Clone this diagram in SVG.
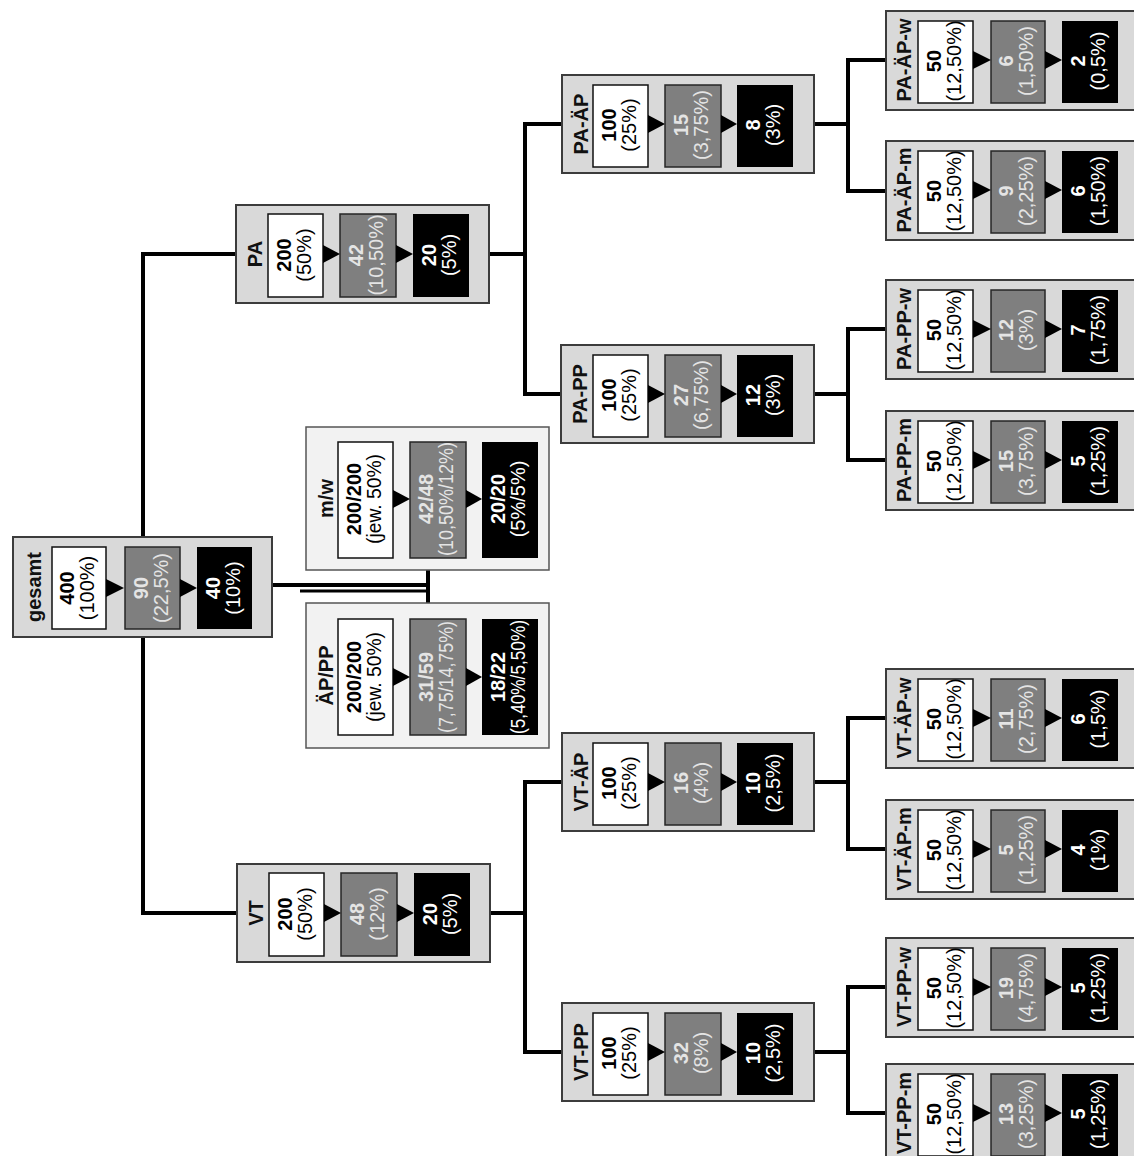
<svg xmlns="http://www.w3.org/2000/svg" width="1134" height="1156" viewBox="0 0 1134 1156">
<style>
.outer{fill:#d9d9d9;stroke:#3c3c3c;stroke-width:2}
.outer2{fill:#f2f2f2;stroke:#555;stroke-width:1.5}
.wb{fill:#fff;stroke:#111;stroke-width:1.5}
.gb{fill:#7f7f7f;stroke:#262626;stroke-width:1.5}
.bb{fill:#000}
.tri{fill:#000}
.lbl{font-family:"Liberation Sans",Arial,sans-serif;font-weight:bold;font-size:20px;fill:#111;text-anchor:middle}
.t{font-family:"Liberation Sans",Arial,sans-serif;font-size:20px;text-anchor:middle}
.tw{fill:#000}
.tg{fill:#e4e4e4}
.tb{fill:#fff}
.b{font-weight:bold}
.conn path{fill:none;stroke:#000;stroke-width:4}
.conn path.thin{stroke-width:3}
</style>
<g class="conn" id="connectors">
<path d="M236,254 H143 V913 H237"/>
<path d="M272,585 H428"/>
<path class="thin" d="M300,591 H428"/>
<path d="M428,570 V603"/>
<path d="M489,254 H525"/>
<path d="M562,124 H525 V394 H561"/>
<path d="M814,124 H848"/>
<path d="M886,60 H848 V191 H886"/>
<path d="M814,394 H848"/>
<path d="M886,329 H848 V460 H886"/>
<path d="M489,913 H525"/>
<path d="M562,782 H525 V1052 H562"/>
<path d="M814,782 H848"/>
<path d="M886,718 H848 V849 H886"/>
<path d="M814,1052 H848"/>
<path d="M886,987 H848 V1113 H886"/>
</g>

<g id="n-gesamt" transform="translate(13,537)">
<rect class="outer" width="259" height="100"/>
<text class="lbl" transform="translate(28,50) rotate(-90)">gesamt</text>
<rect class="wb" x="39" y="10" width="54" height="82"/>
<rect class="gb" x="112" y="10" width="55" height="82"/>
<rect class="bb" x="184" y="10" width="55" height="82"/>
<path class="tri" d="M93,42 L111,51 L93,60Z"/>
<path class="tri" d="M167,42 L184,51 L167,60Z"/>
<text class="t tw" transform="translate(66,51) rotate(-90)"><tspan class="b" x="0" y="-5">400</tspan><tspan x="0" y="15">(100%)</tspan></text>
<text class="t tg" transform="translate(139.5,51) rotate(-90)"><tspan class="b" x="0" y="-5">90</tspan><tspan x="0" y="15">(22,5%)</tspan></text>
<text class="t tb" transform="translate(211.5,51) rotate(-90)"><tspan class="b" x="0" y="-5">40</tspan><tspan x="0" y="15">(10%)</tspan></text>
</g>

<g id="n-mw" transform="translate(306,427)">
<rect class="outer2" width="243" height="143"/>
<text class="lbl" transform="translate(27,71.5) rotate(-90)">m/w</text>
<rect class="wb" x="32" y="15" width="55" height="116"/>
<rect class="gb" x="104" y="15" width="56" height="116"/>
<rect class="bb" x="176" y="15" width="56" height="116"/>
<path class="tri" d="M87,63 L104,72 L87,81Z"/>
<path class="tri" d="M160,63 L176,72 L160,81Z"/>
<text class="t tw" transform="translate(59.5,72) rotate(-90)"><tspan class="b" x="0" y="-5">200/200</tspan><tspan x="0" y="15" textLength="90" lengthAdjust="spacingAndGlyphs">(jew. 50%)</tspan></text>
<text class="t tg" transform="translate(132,72) rotate(-90)"><tspan class="b" x="0" y="-5">42/48</tspan><tspan x="0" y="15" textLength="114" lengthAdjust="spacingAndGlyphs">(10,50%/12%)</tspan></text>
<text class="t tb" transform="translate(204,72) rotate(-90)"><tspan class="b" x="0" y="-5">20/20</tspan><tspan x="0" y="15">(5%/5%)</tspan></text>
</g>

<g id="n-aepp" transform="translate(306,603)">
<rect class="outer2" width="243" height="145"/>
<text class="lbl" transform="translate(27,72.5) rotate(-90)">ÄP/PP</text>
<rect class="wb" x="32" y="16" width="55" height="116"/>
<rect class="gb" x="104" y="16" width="56" height="116"/>
<rect class="bb" x="176" y="16" width="56" height="116"/>
<path class="tri" d="M87,65 L104,74 L87,83Z"/>
<path class="tri" d="M160,65 L176,74 L160,83Z"/>
<text class="t tw" transform="translate(59.5,74) rotate(-90)"><tspan class="b" x="0" y="-5">200/200</tspan><tspan x="0" y="15" textLength="90" lengthAdjust="spacingAndGlyphs">(jew. 50%)</tspan></text>
<text class="t tg" transform="translate(132,74) rotate(-90)"><tspan class="b" x="0" y="-5">31/59</tspan><tspan x="0" y="15" textLength="112" lengthAdjust="spacingAndGlyphs">(7,75/14,75%)</tspan></text>
<text class="t tb" transform="translate(204,74) rotate(-90)"><tspan class="b" x="0" y="-5">18/22</tspan><tspan x="0" y="15" textLength="114" lengthAdjust="spacingAndGlyphs">(5,40%/5,50%)</tspan></text>
</g>

<g id="n-pa" transform="translate(236,205)">
<rect class="outer" width="253" height="98"/>
<text class="lbl" transform="translate(26,49) rotate(-90)">PA</text>
<rect class="wb" x="32" y="9" width="55" height="83"/>
<rect class="gb" x="104" y="9" width="56" height="83"/>
<rect class="bb" x="177" y="9" width="56" height="83"/>
<path class="tri" d="M87,40 L104,49 L87,58Z"/>
<path class="tri" d="M160,40 L177,49 L160,58Z"/>
<text class="t tw" transform="translate(59.5,50) rotate(-90)"><tspan class="b" x="0" y="-5">200</tspan><tspan x="0" y="15">(50%)</tspan></text>
<text class="t tg" transform="translate(132,50) rotate(-90)"><tspan class="b" x="0" y="-5">42</tspan><tspan x="0" y="15">(10,50%)</tspan></text>
<text class="t tb" transform="translate(205,50) rotate(-90)"><tspan class="b" x="0" y="-5">20</tspan><tspan x="0" y="15">(5%)</tspan></text>
</g>

<g id="n-vt" transform="translate(237,864)">
<rect class="outer" width="253" height="98"/>
<text class="lbl" transform="translate(26,49) rotate(-90)">VT</text>
<rect class="wb" x="32" y="9" width="55" height="83"/>
<rect class="gb" x="104" y="9" width="56" height="83"/>
<rect class="bb" x="177" y="9" width="56" height="83"/>
<path class="tri" d="M87,40 L104,49 L87,58Z"/>
<path class="tri" d="M160,40 L177,49 L160,58Z"/>
<text class="t tw" transform="translate(59.5,50) rotate(-90)"><tspan class="b" x="0" y="-5">200</tspan><tspan x="0" y="15">(50%)</tspan></text>
<text class="t tg" transform="translate(132,50) rotate(-90)"><tspan class="b" x="0" y="-5">48</tspan><tspan x="0" y="15">(12%)</tspan></text>
<text class="t tb" transform="translate(205,50) rotate(-90)"><tspan class="b" x="0" y="-5">20</tspan><tspan x="0" y="15">(5%)</tspan></text>
</g>

<g id="n-pa-aep" transform="translate(562,75)">
<rect class="outer" width="252" height="98"/>
<text class="lbl" transform="translate(26,49) rotate(-90)">PA-ÄP</text>
<rect class="wb" x="31" y="10" width="55" height="82"/>
<rect class="gb" x="103" y="10" width="56" height="82"/>
<rect class="bb" x="175" y="10" width="56" height="82"/>
<path class="tri" d="M86,40 L103,49 L86,58Z"/>
<path class="tri" d="M159,40 L175,49 L159,58Z"/>
<text class="t tw" transform="translate(58.5,50) rotate(-90)"><tspan class="b" x="0" y="-5">100</tspan><tspan x="0" y="15">(25%)</tspan></text>
<text class="t tg" transform="translate(131,50) rotate(-90)"><tspan class="b" x="0" y="-5">15</tspan><tspan x="0" y="15">(3,75%)</tspan></text>
<text class="t tb" transform="translate(203,50) rotate(-90)"><tspan class="b" x="0" y="-5">8</tspan><tspan x="0" y="15">(3%)</tspan></text>
</g>

<g id="n-pa-pp" transform="translate(561,345)">
<rect class="outer" width="253" height="98"/>
<text class="lbl" transform="translate(26,49) rotate(-90)">PA-PP</text>
<rect class="wb" x="32" y="10" width="55" height="82"/>
<rect class="gb" x="104" y="10" width="56" height="82"/>
<rect class="bb" x="176" y="10" width="56" height="82"/>
<path class="tri" d="M87,40 L104,49 L87,58Z"/>
<path class="tri" d="M160,40 L176,49 L160,58Z"/>
<text class="t tw" transform="translate(59.5,50) rotate(-90)"><tspan class="b" x="0" y="-5">100</tspan><tspan x="0" y="15">(25%)</tspan></text>
<text class="t tg" transform="translate(132,50) rotate(-90)"><tspan class="b" x="0" y="-5">27</tspan><tspan x="0" y="15">(6,75%)</tspan></text>
<text class="t tb" transform="translate(204,50) rotate(-90)"><tspan class="b" x="0" y="-5">12</tspan><tspan x="0" y="15">(3%)</tspan></text>
</g>

<g id="n-vt-aep" transform="translate(562,733)">
<rect class="outer" width="252" height="98"/>
<text class="lbl" transform="translate(26,49) rotate(-90)">VT-ÄP</text>
<rect class="wb" x="31" y="10" width="55" height="82"/>
<rect class="gb" x="103" y="10" width="56" height="82"/>
<rect class="bb" x="175" y="10" width="56" height="82"/>
<path class="tri" d="M86,40 L103,49 L86,58Z"/>
<path class="tri" d="M159,40 L175,49 L159,58Z"/>
<text class="t tw" transform="translate(58.5,50) rotate(-90)"><tspan class="b" x="0" y="-5">100</tspan><tspan x="0" y="15">(25%)</tspan></text>
<text class="t tg" transform="translate(131,50) rotate(-90)"><tspan class="b" x="0" y="-5">16</tspan><tspan x="0" y="15">(4%)</tspan></text>
<text class="t tb" transform="translate(203,50) rotate(-90)"><tspan class="b" x="0" y="-5">10</tspan><tspan x="0" y="15">(2,5%)</tspan></text>
</g>

<g id="n-vt-pp" transform="translate(562,1003)">
<rect class="outer" width="252" height="98"/>
<text class="lbl" transform="translate(26,49) rotate(-90)">VT-PP</text>
<rect class="wb" x="31" y="10" width="55" height="82"/>
<rect class="gb" x="103" y="10" width="56" height="82"/>
<rect class="bb" x="175" y="10" width="56" height="82"/>
<path class="tri" d="M86,40 L103,49 L86,58Z"/>
<path class="tri" d="M159,40 L175,49 L159,58Z"/>
<text class="t tw" transform="translate(58.5,50) rotate(-90)"><tspan class="b" x="0" y="-5">100</tspan><tspan x="0" y="15">(25%)</tspan></text>
<text class="t tg" transform="translate(131,50) rotate(-90)"><tspan class="b" x="0" y="-5">32</tspan><tspan x="0" y="15">(8%)</tspan></text>
<text class="t tb" transform="translate(203,50) rotate(-90)"><tspan class="b" x="0" y="-5">10</tspan><tspan x="0" y="15">(2,5%)</tspan></text>
</g>

<g id="n-pa-aep-w" transform="translate(886,11)">
<rect class="outer" width="253" height="99"/>
<text class="lbl" transform="translate(25,49) rotate(-90)">PA-ÄP-w</text>
<rect class="wb" x="32" y="10" width="55" height="82"/>
<rect class="gb" x="105" y="10" width="54" height="82"/>
<rect class="bb" x="176" y="10" width="56" height="82"/>
<path class="tri" d="M87,40 L105,49 L87,58Z"/>
<path class="tri" d="M159,40 L176,49 L159,58Z"/>
<text class="t tw" transform="translate(59.5,50) rotate(-90)"><tspan class="b" x="0" y="-5">50</tspan><tspan x="0" y="15">(12,50%)</tspan></text>
<text class="t tg" transform="translate(132,50) rotate(-90)"><tspan class="b" x="0" y="-5">6</tspan><tspan x="0" y="15">(1,50%)</tspan></text>
<text class="t tb" transform="translate(204,50) rotate(-90)"><tspan class="b" x="0" y="-5">2</tspan><tspan x="0" y="15">(0,5%)</tspan></text>
</g>

<g id="n-pa-aep-m" transform="translate(886,141)">
<rect class="outer" width="253" height="99"/>
<text class="lbl" transform="translate(25,49) rotate(-90)">PA-ÄP-m</text>
<rect class="wb" x="32" y="10" width="55" height="82"/>
<rect class="gb" x="105" y="10" width="54" height="82"/>
<rect class="bb" x="176" y="10" width="56" height="82"/>
<path class="tri" d="M87,40 L105,49 L87,58Z"/>
<path class="tri" d="M159,40 L176,49 L159,58Z"/>
<text class="t tw" transform="translate(59.5,50) rotate(-90)"><tspan class="b" x="0" y="-5">50</tspan><tspan x="0" y="15">(12,50%)</tspan></text>
<text class="t tg" transform="translate(132,50) rotate(-90)"><tspan class="b" x="0" y="-5">9</tspan><tspan x="0" y="15">(2,25%)</tspan></text>
<text class="t tb" transform="translate(204,50) rotate(-90)"><tspan class="b" x="0" y="-5">6</tspan><tspan x="0" y="15">(1,50%)</tspan></text>
</g>

<g id="n-pa-pp-w" transform="translate(886,280)">
<rect class="outer" width="253" height="99"/>
<text class="lbl" transform="translate(25,49) rotate(-90)">PA-PP-w</text>
<rect class="wb" x="32" y="10" width="55" height="82"/>
<rect class="gb" x="105" y="10" width="54" height="82"/>
<rect class="bb" x="176" y="10" width="56" height="82"/>
<path class="tri" d="M87,40 L105,49 L87,58Z"/>
<path class="tri" d="M159,40 L176,49 L159,58Z"/>
<text class="t tw" transform="translate(59.5,50) rotate(-90)"><tspan class="b" x="0" y="-5">50</tspan><tspan x="0" y="15">(12,50%)</tspan></text>
<text class="t tg" transform="translate(132,50) rotate(-90)"><tspan class="b" x="0" y="-5">12</tspan><tspan x="0" y="15">(3%)</tspan></text>
<text class="t tb" transform="translate(204,50) rotate(-90)"><tspan class="b" x="0" y="-5">7</tspan><tspan x="0" y="15">(1,75%)</tspan></text>
</g>

<g id="n-pa-pp-m" transform="translate(886,411)">
<rect class="outer" width="253" height="99"/>
<text class="lbl" transform="translate(25,49) rotate(-90)">PA-PP-m</text>
<rect class="wb" x="32" y="10" width="55" height="82"/>
<rect class="gb" x="105" y="10" width="54" height="82"/>
<rect class="bb" x="176" y="10" width="56" height="82"/>
<path class="tri" d="M87,40 L105,49 L87,58Z"/>
<path class="tri" d="M159,40 L176,49 L159,58Z"/>
<text class="t tw" transform="translate(59.5,50) rotate(-90)"><tspan class="b" x="0" y="-5">50</tspan><tspan x="0" y="15">(12,50%)</tspan></text>
<text class="t tg" transform="translate(132,50) rotate(-90)"><tspan class="b" x="0" y="-5">15</tspan><tspan x="0" y="15">(3,75%)</tspan></text>
<text class="t tb" transform="translate(204,50) rotate(-90)"><tspan class="b" x="0" y="-5">5</tspan><tspan x="0" y="15">(1,25%)</tspan></text>
</g>

<g id="n-vt-aep-w" transform="translate(886,669)">
<rect class="outer" width="253" height="99"/>
<text class="lbl" transform="translate(25,49) rotate(-90)">VT-ÄP-w</text>
<rect class="wb" x="32" y="10" width="55" height="82"/>
<rect class="gb" x="105" y="10" width="54" height="82"/>
<rect class="bb" x="176" y="10" width="56" height="82"/>
<path class="tri" d="M87,40 L105,49 L87,58Z"/>
<path class="tri" d="M159,40 L176,49 L159,58Z"/>
<text class="t tw" transform="translate(59.5,50) rotate(-90)"><tspan class="b" x="0" y="-5">50</tspan><tspan x="0" y="15">(12,50%)</tspan></text>
<text class="t tg" transform="translate(132,50) rotate(-90)"><tspan class="b" x="0" y="-5">11</tspan><tspan x="0" y="15">(2,75%)</tspan></text>
<text class="t tb" transform="translate(204,50) rotate(-90)"><tspan class="b" x="0" y="-5">6</tspan><tspan x="0" y="15">(1,5%)</tspan></text>
</g>

<g id="n-vt-aep-m" transform="translate(886,800)">
<rect class="outer" width="253" height="99"/>
<text class="lbl" transform="translate(25,49) rotate(-90)">VT-ÄP-m</text>
<rect class="wb" x="32" y="10" width="55" height="82"/>
<rect class="gb" x="105" y="10" width="54" height="82"/>
<rect class="bb" x="176" y="10" width="56" height="82"/>
<path class="tri" d="M87,40 L105,49 L87,58Z"/>
<path class="tri" d="M159,40 L176,49 L159,58Z"/>
<text class="t tw" transform="translate(59.5,50) rotate(-90)"><tspan class="b" x="0" y="-5">50</tspan><tspan x="0" y="15">(12,50%)</tspan></text>
<text class="t tg" transform="translate(132,50) rotate(-90)"><tspan class="b" x="0" y="-5">5</tspan><tspan x="0" y="15">(1,25%)</tspan></text>
<text class="t tb" transform="translate(204,50) rotate(-90)"><tspan class="b" x="0" y="-5">4</tspan><tspan x="0" y="15">(1%)</tspan></text>
</g>

<g id="n-vt-pp-w" transform="translate(886,938)">
<rect class="outer" width="253" height="99"/>
<text class="lbl" transform="translate(25,49) rotate(-90)">VT-PP-w</text>
<rect class="wb" x="32" y="10" width="55" height="82"/>
<rect class="gb" x="105" y="10" width="54" height="82"/>
<rect class="bb" x="176" y="10" width="56" height="82"/>
<path class="tri" d="M87,40 L105,49 L87,58Z"/>
<path class="tri" d="M159,40 L176,49 L159,58Z"/>
<text class="t tw" transform="translate(59.5,50) rotate(-90)"><tspan class="b" x="0" y="-5">50</tspan><tspan x="0" y="15">(12,50%)</tspan></text>
<text class="t tg" transform="translate(132,50) rotate(-90)"><tspan class="b" x="0" y="-5">19</tspan><tspan x="0" y="15">(4,75%)</tspan></text>
<text class="t tb" transform="translate(204,50) rotate(-90)"><tspan class="b" x="0" y="-5">5</tspan><tspan x="0" y="15">(1,25%)</tspan></text>
</g>

<g id="n-vt-pp-m" transform="translate(886,1064)">
<rect class="outer" width="253" height="99"/>
<text class="lbl" transform="translate(25,49) rotate(-90)">VT-PP-m</text>
<rect class="wb" x="32" y="10" width="55" height="82"/>
<rect class="gb" x="105" y="10" width="54" height="82"/>
<rect class="bb" x="176" y="10" width="56" height="82"/>
<path class="tri" d="M87,40 L105,49 L87,58Z"/>
<path class="tri" d="M159,40 L176,49 L159,58Z"/>
<text class="t tw" transform="translate(59.5,50) rotate(-90)"><tspan class="b" x="0" y="-5">50</tspan><tspan x="0" y="15">(12,50%)</tspan></text>
<text class="t tg" transform="translate(132,50) rotate(-90)"><tspan class="b" x="0" y="-5">13</tspan><tspan x="0" y="15">(3,25%)</tspan></text>
<text class="t tb" transform="translate(204,50) rotate(-90)"><tspan class="b" x="0" y="-5">5</tspan><tspan x="0" y="15">(1,25%)</tspan></text>
</g>
</svg>
